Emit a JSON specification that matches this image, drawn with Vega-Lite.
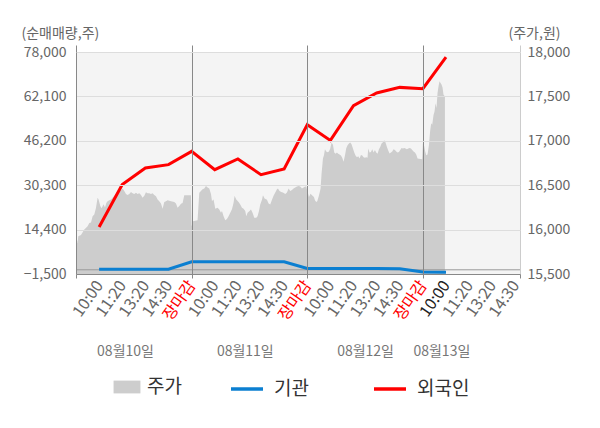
{
  "$schema": "https://vega.github.io/schema/vega-lite/v6.json",
  "width": 444,
  "height": 222,
  "autosize": "none",
  "padding": {"left": 76, "top": 52, "right": 80, "bottom": 154},
  "background": "white",
  "config": {
    "font": "Noto Sans CJK KR",
    "view": {"fill": "#f4f4f4", "stroke": null},
    "axis": {"labelColor": "#666666", "labelFontSize": 14, "titleColor": "#666666", "titleFontWeight": "normal", "titleFontSize": 14},
    "legend": {"title": null, "labelFontSize": 19, "labelColor": "#333333", "direction": "horizontal", "orient": "none"}
  },
  "datasets": {
    "price": [
      {"t": 0.0, "p": 15940}, {"t": 0.069, "p": 15850}, {"t": 0.099, "p": 15925}, {"t": 0.216, "p": 15940},
      {"t": 0.359, "p": 16000}, {"t": 0.502, "p": 16038}, {"t": 0.575, "p": 16075}, {"t": 0.649, "p": 16080},
      {"t": 0.718, "p": 16150}, {"t": 0.791, "p": 16170}, {"t": 0.865, "p": 16245}, {"t": 0.934, "p": 16360},
      {"t": 0.977, "p": 16340}, {"t": 1.051, "p": 16265}, {"t": 1.107, "p": 16240}, {"t": 1.193, "p": 16285},
      {"t": 1.254, "p": 16250}, {"t": 1.31, "p": 16300}, {"t": 1.366, "p": 16320}, {"t": 1.44, "p": 16330},
      {"t": 1.513, "p": 16340}, {"t": 1.582, "p": 16360}, {"t": 1.656, "p": 16380}, {"t": 1.799, "p": 16415},
      {"t": 1.946, "p": 16447}, {"t": 2.015, "p": 16462}, {"t": 2.088, "p": 16435}, {"t": 2.162, "p": 16400},
      {"t": 2.231, "p": 16390}, {"t": 2.304, "p": 16400}, {"t": 2.378, "p": 16424}, {"t": 2.447, "p": 16410},
      {"t": 2.521, "p": 16400}, {"t": 2.594, "p": 16415}, {"t": 2.663, "p": 16400}, {"t": 2.737, "p": 16410},
      {"t": 2.81, "p": 16390}, {"t": 2.879, "p": 16360}, {"t": 2.953, "p": 16380}, {"t": 3.026, "p": 16420},
      {"t": 3.096, "p": 16410}, {"t": 3.169, "p": 16410}, {"t": 3.243, "p": 16400}, {"t": 3.312, "p": 16410},
      {"t": 3.385, "p": 16390}, {"t": 3.459, "p": 16375}, {"t": 3.528, "p": 16340}, {"t": 3.601, "p": 16320},
      {"t": 3.675, "p": 16295}, {"t": 3.744, "p": 16235}, {"t": 3.818, "p": 16310}, {"t": 3.891, "p": 16320},
      {"t": 3.96, "p": 16330}, {"t": 4.107, "p": 16320}, {"t": 4.25, "p": 16310}, {"t": 4.323, "p": 16295},
      {"t": 4.393, "p": 16245}, {"t": 4.466, "p": 16265}, {"t": 4.54, "p": 16290}, {"t": 4.609, "p": 16300},
      {"t": 4.682, "p": 16386}, {"t": 4.97, "p": 16386},
      {"t": 5.0, "p": 16038}, {"t": 5.058, "p": 16095}, {"t": 5.257, "p": 16106}, {"t": 5.331, "p": 16415},
      {"t": 5.404, "p": 16435}, {"t": 5.473, "p": 16455}, {"t": 5.547, "p": 16462}, {"t": 5.62, "p": 16492},
      {"t": 5.69, "p": 16475}, {"t": 5.763, "p": 16462}, {"t": 5.837, "p": 16400}, {"t": 5.88, "p": 16322},
      {"t": 5.949, "p": 16340}, {"t": 6.022, "p": 16235}, {"t": 6.122, "p": 16245}, {"t": 6.195, "p": 16225},
      {"t": 6.269, "p": 16190}, {"t": 6.312, "p": 16210}, {"t": 6.381, "p": 16150}, {"t": 6.455, "p": 16106},
      {"t": 6.528, "p": 16120}, {"t": 6.597, "p": 16150}, {"t": 6.671, "p": 16190}, {"t": 6.744, "p": 16230},
      {"t": 6.814, "p": 16303}, {"t": 6.857, "p": 16380}, {"t": 6.93, "p": 16340}, {"t": 7.03, "p": 16310},
      {"t": 7.103, "p": 16284}, {"t": 7.177, "p": 16245}, {"t": 7.246, "p": 16235}, {"t": 7.319, "p": 16210},
      {"t": 7.363, "p": 16150}, {"t": 7.419, "p": 16190}, {"t": 7.505, "p": 16210}, {"t": 7.566, "p": 16227},
      {"t": 7.635, "p": 16190}, {"t": 7.709, "p": 16133}, {"t": 7.795, "p": 16133}, {"t": 7.851, "p": 16150},
      {"t": 7.912, "p": 16210}, {"t": 7.968, "p": 16284}, {"t": 8.042, "p": 16335}, {"t": 8.085, "p": 16386},
      {"t": 8.154, "p": 16350}, {"t": 8.258, "p": 16335}, {"t": 8.327, "p": 16295}, {"t": 8.4, "p": 16284},
      {"t": 8.474, "p": 16335}, {"t": 8.543, "p": 16380}, {"t": 8.617, "p": 16417}, {"t": 8.69, "p": 16455},
      {"t": 8.733, "p": 16462}, {"t": 8.803, "p": 16435}, {"t": 8.876, "p": 16424}, {"t": 8.95, "p": 16417},
      {"t": 9.049, "p": 16400}, {"t": 9.123, "p": 16417}, {"t": 9.192, "p": 16462}, {"t": 9.265, "p": 16435},
      {"t": 9.339, "p": 16447}, {"t": 9.408, "p": 16462}, {"t": 9.481, "p": 16474}, {"t": 9.555, "p": 16485},
      {"t": 9.624, "p": 16492}, {"t": 9.697, "p": 16485}, {"t": 9.771, "p": 16462}, {"t": 9.84, "p": 16474},
      {"t": 9.914, "p": 16485}, {"t": 9.957, "p": 16485},
      {"t": 10.0, "p": 16440}, {"t": 10.074, "p": 16367}, {"t": 10.143, "p": 16405}, {"t": 10.217, "p": 16385},
      {"t": 10.29, "p": 16367}, {"t": 10.333, "p": 16330}, {"t": 10.39, "p": 16310}, {"t": 10.433, "p": 16318},
      {"t": 10.506, "p": 16385}, {"t": 10.575, "p": 16460}, {"t": 10.619, "p": 16630}, {"t": 10.679, "p": 16800},
      {"t": 10.722, "p": 16837}, {"t": 10.765, "p": 16905}, {"t": 10.822, "p": 16880}, {"t": 10.878, "p": 16870},
      {"t": 10.938, "p": 16880}, {"t": 10.995, "p": 16913}, {"t": 11.051, "p": 16980}, {"t": 11.111, "p": 16955},
      {"t": 11.168, "p": 16868}, {"t": 11.224, "p": 16855}, {"t": 11.284, "p": 16868}, {"t": 11.34, "p": 16855},
      {"t": 11.397, "p": 16845}, {"t": 11.457, "p": 16835}, {"t": 11.513, "p": 16808}, {"t": 11.57, "p": 16763},
      {"t": 11.63, "p": 16835}, {"t": 11.686, "p": 16917}, {"t": 11.743, "p": 16950}, {"t": 11.803, "p": 16970},
      {"t": 11.859, "p": 16980}, {"t": 11.915, "p": 16960}, {"t": 11.976, "p": 16913}, {"t": 12.032, "p": 16868},
      {"t": 12.088, "p": 16835}, {"t": 12.149, "p": 16815}, {"t": 12.205, "p": 16825}, {"t": 12.261, "p": 16800},
      {"t": 12.322, "p": 16840}, {"t": 12.378, "p": 16835}, {"t": 12.434, "p": 16815}, {"t": 12.495, "p": 16808},
      {"t": 12.551, "p": 16815}, {"t": 12.607, "p": 16808}, {"t": 12.637, "p": 16913}, {"t": 12.694, "p": 16868},
      {"t": 12.754, "p": 16875}, {"t": 12.81, "p": 16905}, {"t": 12.867, "p": 16868}, {"t": 12.927, "p": 16895},
      {"t": 12.983, "p": 16868}, {"t": 13.04, "p": 16855}, {"t": 13.1, "p": 16905}, {"t": 13.156, "p": 16930},
      {"t": 13.213, "p": 16970}, {"t": 13.273, "p": 16985}, {"t": 13.329, "p": 17007}, {"t": 13.385, "p": 16980},
      {"t": 13.446, "p": 16930}, {"t": 13.502, "p": 16890}, {"t": 13.558, "p": 16857}, {"t": 13.619, "p": 16868},
      {"t": 13.675, "p": 16880}, {"t": 13.731, "p": 16905}, {"t": 13.792, "p": 16895}, {"t": 13.848, "p": 16880},
      {"t": 13.904, "p": 16868}, {"t": 13.965, "p": 16875}, {"t": 14.021, "p": 16895}, {"t": 14.077, "p": 16920},
      {"t": 14.137, "p": 16913}, {"t": 14.194, "p": 16920}, {"t": 14.25, "p": 16913}, {"t": 14.311, "p": 16905},
      {"t": 14.367, "p": 16913}, {"t": 14.423, "p": 16920}, {"t": 14.483, "p": 16913}, {"t": 14.54, "p": 16895},
      {"t": 14.596, "p": 16880}, {"t": 14.656, "p": 16868}, {"t": 14.713, "p": 16845}, {"t": 14.769, "p": 16800},
      {"t": 14.972, "p": 16792},
      {"t": 15.0, "p": 16970}, {"t": 15.058, "p": 16940}, {"t": 15.101, "p": 16880}, {"t": 15.145, "p": 16837},
      {"t": 15.201, "p": 16845}, {"t": 15.261, "p": 16950}, {"t": 15.318, "p": 17120}, {"t": 15.361, "p": 17197},
      {"t": 15.404, "p": 17180}, {"t": 15.461, "p": 17290}, {"t": 15.504, "p": 17330}, {"t": 15.547, "p": 17424},
      {"t": 15.59, "p": 17370}, {"t": 15.634, "p": 17537}, {"t": 15.677, "p": 17613}, {"t": 15.72, "p": 17670},
      {"t": 15.763, "p": 17650}, {"t": 15.806, "p": 17635}, {"t": 15.85, "p": 17600}, {"t": 15.893, "p": 17518},
      {"t": 15.953, "p": 17500}
    ],
    "flow": [
      {"t": 1, "series": "외국인", "v": 15300}, {"t": 2, "series": "외국인", "v": 30500},
      {"t": 3, "series": "외국인", "v": 36460}, {"t": 4, "series": "외국인", "v": 37650},
      {"t": 5, "series": "외국인", "v": 42400}, {"t": 6, "series": "외국인", "v": 35850},
      {"t": 7, "series": "외국인", "v": 39690}, {"t": 8, "series": "외국인", "v": 34060},
      {"t": 9, "series": "외국인", "v": 36100}, {"t": 10, "series": "외국인", "v": 51970},
      {"t": 11, "series": "외국인", "v": 46350}, {"t": 12, "series": "외국인", "v": 58770},
      {"t": 13, "series": "외국인", "v": 63320}, {"t": 14, "series": "외국인", "v": 65330},
      {"t": 15, "series": "외국인", "v": 64860}, {"t": 16, "series": "외국인", "v": 76200},
      {"t": 1, "series": "기관", "v": 200}, {"t": 2, "series": "기관", "v": 200},
      {"t": 3, "series": "기관", "v": 200}, {"t": 4, "series": "기관", "v": 200},
      {"t": 5, "series": "기관", "v": 2900}, {"t": 6, "series": "기관", "v": 2900},
      {"t": 7, "series": "기관", "v": 2900}, {"t": 8, "series": "기관", "v": 2900},
      {"t": 9, "series": "기관", "v": 2900}, {"t": 10, "series": "기관", "v": 500},
      {"t": 11, "series": "기관", "v": 500}, {"t": 12, "series": "기관", "v": 500},
      {"t": 13, "series": "기관", "v": 500}, {"t": 14, "series": "기관", "v": 400},
      {"t": 15, "series": "기관", "v": -800}, {"t": 16, "series": "기관", "v": -900}
    ]
  },
  "layer": [
    {
      "data": {"name": "price"},
      "mark": {"type": "area", "opacity": 1, "clip": true},
      "encoding": {
        "x": {
          "field": "t", "type": "quantitative",
          "scale": {"domain": [0, 19.2], "nice": false, "zero": false},
          "axis": {
            "orient": "bottom", "title": null, "zindex": 1,
            "values": [0, 1, 2, 3, 4, 5, 6, 7, 8, 9, 10, 11, 12, 13, 14, 15, 16, 17, 18, 19, 19.2],
            "labelExpr": "(datum.value == 0 || datum.value > 19) ? '' : ['', '10:00', '11:20', '13:20', '14:30', '장마감', '10:00', '11:20', '13:20', '14:30', '장마감', '10:00', '11:20', '13:20', '14:30', '장마감', '10:00', '11:20', '13:20', '14:30'][datum.value]",
            "labelAngle": -55, "labelAlign": "right", "labelBaseline": "middle",
            "labelFontSize": 16, "labelPadding": 4, "labelOverlap": false, "labelFlush": false, "labelBound": false,
            "labelColor": {"condition": [{"test": "datum.value % 5 == 0", "value": "#ff0000"}, {"test": "datum.value == 16", "value": "#222222"}], "value": "#666666"},
            "domainColor": "#888888",
            "tickSize": 4, "tickColor": "#888888",
            "tickOpacity": {"condition": {"test": "datum.value % 5 == 0 || datum.value > 19", "value": 1}, "value": 0},
            "grid": true, "gridColor": "#888888",
            "gridOpacity": {"condition": {"test": "datum.value == 5 || datum.value == 10 || datum.value == 15", "value": 1}, "value": 0}
          }
        },
        "y": {
          "field": "p", "type": "quantitative",
          "scale": {"domain": [15500, 18000], "nice": false, "zero": false},
          "axis": {
            "orient": "right", "values": [15500, 16000, 16500, 17000, 17500, 18000], "format": ",.0f",
            "ticks": false, "labelPadding": 7, "grid": false, "domainColor": "#cccccc",
            "title": "(주가,원)", "titleAngle": 0, "titleAlign": "left", "titleBaseline": "middle", "titleX": -12, "titleY": -19
          }
        },
        "color": {
          "datum": "주가", "type": "nominal",
          "scale": {"domain": ["주가", "기관", "외국인"], "range": ["#cdcdcd", "#0b7fd1", "#ff0000"]},
          "legend": {
            "values": ["주가"], "legendX": 35, "legendY": 319, "labelOffset": 4,
            "symbolType": "M-0.84,-0.4H0.84V0.4H-0.84Z", "symbolSize": 1024, "symbolStrokeWidth": 0, "symbolOpacity": 1
          }
        }
      }
    },
    {
      "layer": [
        {
          "data": {"values": [{"zero": 0}]},
          "mark": {"type": "rule", "color": "#999999", "strokeWidth": 1},
          "encoding": {
            "y": {
              "field": "zero", "type": "quantitative",
              "scale": {"domain": [-1500, 78000], "nice": false, "zero": false},
              "axis": {
                "orient": "left", "values": [-1500, 14400, 30300, 46200, 62100, 78000], "format": ",.0f",
                "ticks": false, "labelPadding": 10, "grid": true, "gridColor": "#dddddd", "zindex": 1, "domainColor": "#888888",
                "title": "(순매매량,주)", "titleAngle": 0, "titleAlign": "left", "titleBaseline": "middle", "titleX": -55, "titleY": -19
              }
            }
          }
        },
        {
          "data": {"name": "flow"},
          "transform": [{"filter": "datum.series === '기관'"}],
          "mark": {"type": "line", "strokeWidth": 3},
          "encoding": {
            "x": {
              "field": "t", "type": "quantitative",
              "scale": {"domain": [0, 19.2], "nice": false, "zero": false},
              "axis": {
                "orient": "top", "title": null, "values": [0, 5, 10, 15, 19.2], "labels": false, "domain": false, "grid": false,
                "tickSize": 7, "tickColor": {"condition": {"test": "datum.value > 19", "value": "#cccccc"}, "value": "#888888"}
              }
            },
            "y": {
              "field": "v", "type": "quantitative",
              "scale": {"domain": [-1500, 78000], "nice": false, "zero": false},
              "axis": {
                "orient": "left", "values": [-1500, 14400, 30300, 46200, 62100, 78000], "format": ",.0f",
                "ticks": false, "labelPadding": 10, "grid": true, "gridColor": "#dddddd", "zindex": 1, "domainColor": "#888888",
                "title": "(순매매량,주)", "titleAngle": 0, "titleAlign": "left", "titleBaseline": "middle", "titleX": -55, "titleY": -19
              }
            },
            "color": {
              "field": "series", "type": "nominal",
              "legend": {
                "values": ["기관", "외국인"], "legendX": 153, "legendY": 319, "labelOffset": 9,
                "symbolType": "stroke", "symbolSize": 1024, "symbolStrokeWidth": 3.5, "columnPadding": 58
              }
            }
          }
        },
        {
          "data": {"name": "flow"},
          "transform": [{"filter": "datum.series === '외국인'"}],
          "mark": {"type": "line", "strokeWidth": 3},
          "encoding": {
            "x": {
              "field": "t", "type": "quantitative",
              "scale": {"domain": [0, 19.2], "nice": false, "zero": false},
              "axis": {
                "orient": "bottom", "offset": 70, "title": null, "values": [2.12, 7.3, 12.5, 15.8],
                "labelExpr": "datum.value < 5 ? '08월10일' : datum.value < 10 ? '08월11일' : datum.value < 15 ? '08월12일' : '08월13일'",
                "labelAngle": 0, "labelFontSize": 14, "labelColor": "#777777", "labelPadding": 0,
                "labelOverlap": false, "labelFlush": false, "ticks": false, "domain": false, "grid": false
              }
            },
            "y": {
              "field": "v", "type": "quantitative",
              "scale": {"domain": [-1500, 78000], "nice": false, "zero": false},
              "axis": {
                "orient": "left", "values": [-1500, 14400, 30300, 46200, 62100, 78000], "format": ",.0f",
                "ticks": false, "labelPadding": 10, "grid": true, "gridColor": "#dddddd", "zindex": 1, "domainColor": "#888888",
                "title": "(순매매량,주)", "titleAngle": 0, "titleAlign": "left", "titleBaseline": "middle", "titleX": -55, "titleY": -19
              }
            },
            "color": {"field": "series", "type": "nominal"}
          }
        }
      ],
      "resolve": {"axis": {"x": "independent"}}
    }
  ],
  "resolve": {"scale": {"y": "independent"}, "axis": {"x": "independent"}, "legend": {"color": "independent"}}
}
